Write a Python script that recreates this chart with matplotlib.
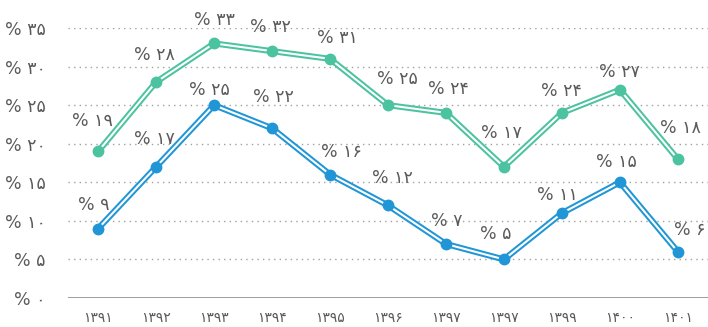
import matplotlib
matplotlib.use("Agg")
import matplotlib.pyplot as plt

# سال‌ها و درصدها
years = ["۱۳۹۱", "۱۳۹۲", "۱۳۹۳", "۱۳۹۴", "۱۳۹۵", "۱۳۹۶",
         "۱۳۹۷", "۱۳۹۷", "۱۳۹۹", "۱۴۰۰", "۱۴۰۱"]
green_vals = [19, 28, 33, 32, 31, 25, 24, 17, 24, 27, 18]
blue_vals = [9, 17, 25, 22, 16, 12, 7, 5, 11, 15, 6]
y_ticks = [0, 5, 10, 15, 20, 25, 30, 35]

# label offsets in pixels (dx, dy), one per point
green_offsets = [(-6, 30), (-2, 27), (0, 23), (-2, 24), (7, 21), (9, 26),
                 (2, 24), (-3, 34), (0, 22), (0, 18), (3, 31)]
blue_offsets = [(-4, 24), (-2, 28), (-5, 15), (1, 31), (11, 23), (4, 27),
                (1, 23), (-8, 25), (-4, 18), (-3, 20), (12, 22)]

GREEN = "#4cc3a0"
BLUE = "#2196d6"
TEXT = "#5a5a5a"

fa_digits = str.maketrans("0123456789", "۰۱۲۳۴۵۶۷۸۹")


def pct(v):
    return "% " + str(v).translate(fa_digits)


fig = plt.figure(figsize=(7.08, 3.27), dpi=100)
ax = fig.add_axes([68 / 708, 29 / 327, 1 - 68 / 708, 270 / 327])

x = list(range(len(years)))

for vals, color, offsets in [(green_vals, GREEN, green_offsets),
                             (blue_vals, BLUE, blue_offsets)]:
    ax.plot(x, vals, color=color, lw=4.4, zorder=3, clip_on=False)
    ax.plot(x, vals, color="white", lw=1.5, zorder=4, clip_on=False)
    ax.plot(x, vals, "o", color=color, ms=7.5, zorder=5, clip_on=False)
    for xi, v, (dx, dy) in zip(x, vals, offsets):
        ax.annotate(pct(v), (xi, v), xytext=(dx, dy), textcoords="offset pixels",
                    ha="center", va="center", fontsize=12.5, color=TEXT,
                    family=["DejaVu Sans"], zorder=6)

# dotted grid, solid baseline
for t in y_ticks[1:]:
    ax.axhline(t, color="#a0a0a0", lw=1.0, ls=(0, (1, 3)), zorder=1)
ax.axhline(0, color="#8c8c8c", lw=1.2, zorder=2)

ax.set_xlim(-0.52, 10.52)
ax.set_ylim(0, 35)
ax.set_yticks(y_ticks)
ax.set_yticklabels([pct(t) for t in y_ticks])
ax.set_xticks(x)
ax.set_xticklabels(years)
ax.tick_params(axis="y", length=0, pad=16, labelsize=12.5, labelcolor=TEXT)
ax.tick_params(axis="x", length=0, pad=9, labelsize=10, labelcolor=TEXT)
for s in ax.spines.values():
    s.set_visible(False)

fig.savefig("out.png", dpi=100)
